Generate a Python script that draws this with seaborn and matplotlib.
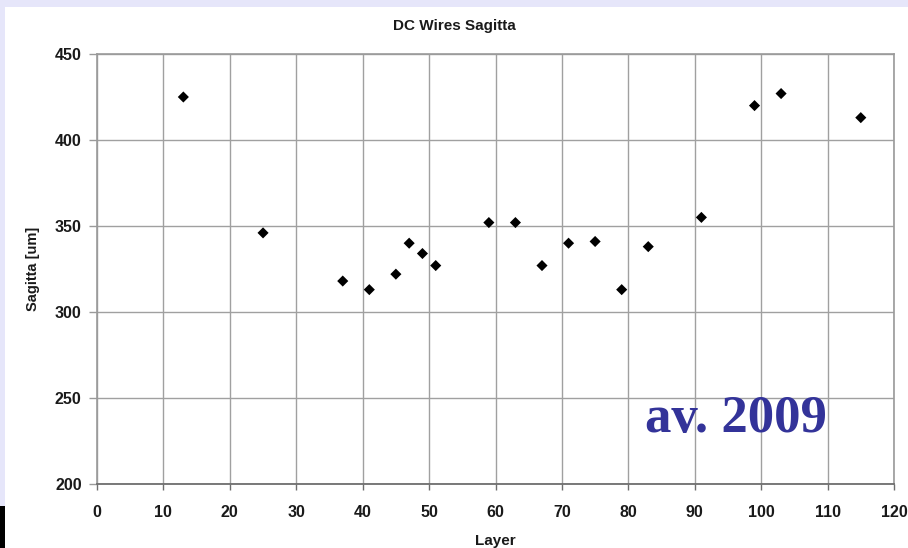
import matplotlib
matplotlib.use("Agg")
import matplotlib.pyplot as plt
from matplotlib.patches import Rectangle
import seaborn as sns
import pandas as pd

# Wire sagitta per drift-chamber layer
layers = [13, 25, 37, 41, 45, 47, 49, 51, 59, 63, 67, 71, 75, 79, 83, 91, 99, 103, 115]
sagitta = [425, 346, 318, 313, 322, 340, 334, 327, 352, 352, 327, 340, 341, 313, 338, 355, 420, 427, 413]

x_ticks = list(range(0, 121, 10))
y_ticks = list(range(200, 451, 50))

title = "DC Wires Sagitta"
x_label = "Layer"
y_label = "Sagitta [um]"
note = "av. 2009"

df = pd.DataFrame({"Layer": layers, "Sagitta": sagitta})

sns.set_theme(style="whitegrid")
plt.rcParams["font.family"] = ["Liberation Sans", "DejaVu Sans"]

W, H = 908, 548
fig = plt.figure(figsize=(W / 100, H / 100), dpi=100, facecolor="#e6e6fa")

# white slide panel and the dark strip at the lower left
fig.patches.append(Rectangle((5 / W, 0), 1 - 5 / W, 1 - 7 / H, transform=fig.transFigure,
                             facecolor="white", edgecolor="none", zorder=-10))
fig.patches.append(Rectangle((0, 0), 5 / W, 1 - 506 / H, transform=fig.transFigure,
                             facecolor="black", edgecolor="none", zorder=-10))

ax = fig.add_axes([97 / W, 1 - 484 / H, (894 - 97) / W, (484 - 54) / H])
ax.set_zorder(1)
ax.set_facecolor("white")

sns.scatterplot(data=df, x="Layer", y="Sagitta", ax=ax, marker="D", s=32,
                color="black", edgecolor="none", zorder=3)

ax.set_xlim(0, 120)
ax.set_ylim(200, 450)
ax.set_xticks(x_ticks)
ax.set_yticks(y_ticks)

ax.grid(True, color="#a0a0a0", linewidth=1.0)
for side in ["top", "right", "left"]:
    ax.spines[side].set_visible(True)
    ax.spines[side].set_color("#9a9a9a")
    ax.spines[side].set_linewidth(1.2)
ax.spines["bottom"].set_color("#6e6e6e")
ax.spines["bottom"].set_linewidth(1.3)

ax.tick_params(axis="x", bottom=True, direction="out", length=4, width=1,
               color="#6e6e6e", pad=11, labelsize=11.5)
ax.tick_params(axis="y", left=True, direction="out", length=6, width=1,
               color="#9a9a9a", pad=5, labelsize=11.5)
for lab in ax.get_xticklabels() + ax.get_yticklabels():
    lab.set_fontweight("bold")
    lab.set_color("#1a1a1a")

ax.set_xlabel(x_label, fontsize=11, fontweight="bold", color="#1a1a1a", labelpad=10)
ax.set_ylabel(y_label, fontsize=10.5, fontweight="bold", color="#1a1a1a", labelpad=11)

fig.text(0.5, 1 - 26 / H, title, ha="center", va="center", fontsize=11,
         fontweight="bold", color="#1a1a1a")

fig.text(645 / W, 1 - 432 / H, note, ha="left", va="baseline", fontsize=38,
         fontweight="bold", color="#333399", family=["Liberation Serif", "DejaVu Serif"],
         zorder=5)

fig.savefig("out.png", dpi=100, facecolor=fig.get_facecolor())
